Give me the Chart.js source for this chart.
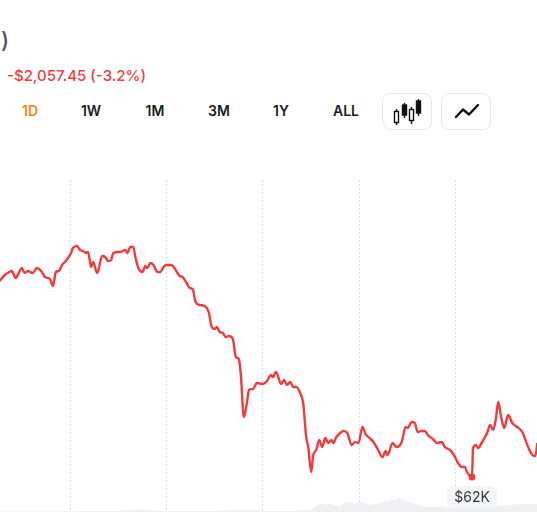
<!DOCTYPE html>
<html>
<head>
<meta charset="utf-8">
<script src="https://cdn.jsdelivr.net/npm/chart.js@4.4.1/dist/chart.umd.min.js"></script>
<style>
  html, body { margin: 0; padding: 0; background: #fff; }
  body { width: 537px; height: 512px; position: relative; overflow: hidden; font-family: "Inter", "Noto Sans", sans-serif; }
  .title { position: absolute; right: calc(100% - 9px); top: 28px; font-size: 22px; font-weight: 500; color: #50555f; white-space: nowrap; }
  .change { position: absolute; left: 7px; top: 66px; font-size: 15px; font-weight: 500; color: #f04040; white-space: nowrap; }
  .tab { position: absolute; top: 102px; font-size: 14px; font-weight: 600; color: #1b1d22; transform: translateX(-50%); }
  .tab.active { color: #f7821b; }
  .iconbtn { position: absolute; top: 93px; width: 48px; height: 35px; border: 1px solid #e6e8ec; border-radius: 8px; box-sizing: content-box; }
  .iconbtn svg { position: absolute; left: 0; top: 0; }
  #chartWrap { position: absolute; left: 0; top: 180px; width: 537px; height: 332px; }
</style>
</head>
<body>
<div class="title">Bitcoin (BTC)</div>
<div class="change">-$2,057.45 (-3.2%)</div>

<div class="tab active" style="left:30px">1D</div>
<div class="tab" style="left:91px">1W</div>
<div class="tab" style="left:155px">1M</div>
<div class="tab" style="left:219px">3M</div>
<div class="tab" style="left:281px">1Y</div>
<div class="tab" style="left:346px">ALL</div>

<div class="iconbtn" style="left:382px">
  <svg width="48" height="35" viewBox="0 0 48 35">
    <g stroke="#111" stroke-width="1.4" fill="none">
      <line x1="13.5" y1="15" x2="13.5" y2="31"/>
      <rect x="11.5" y="17.5" width="4" height="11" fill="#fff"/>
      <line x1="21.5" y1="9" x2="21.5" y2="24"/>
      <rect x="19.5" y="11" width="4" height="10" fill="#111"/>
      <line x1="28.5" y1="13" x2="28.5" y2="30"/>
      <rect x="26.5" y="15.5" width="4" height="11" fill="#fff"/>
      <line x1="35.5" y1="5" x2="35.5" y2="22"/>
      <rect x="33.5" y="7" width="4" height="12" fill="#111"/>
    </g>
  </svg>
</div>
<div class="iconbtn" style="left:441px">
  <svg width="48" height="35" viewBox="0 0 48 35">
    <polyline points="14,23 21,15.5 27,20.5 36,11" stroke="#111" stroke-width="2.4" fill="none" stroke-linejoin="round" stroke-linecap="round"/>
  </svg>
</div>

<div id="chartWrap"><canvas id="priceChart"></canvas></div>

<script>
// time axis: 2.5-minute steps since 00:00 (96 steps = 4 hours)
const priceSteps = [
  26, 31, 34, 38, 42, 44, 48, 51, 54, 59, 63, 68, 71, 76, 79, 82, 85, 88, 91, 94,
  97, 99, 103, 106, 109, 112, 114, 117, 119, 123, 128, 131, 134, 137, 139, 146, 151, 153, 156, 159,
  161, 164, 168, 171, 173, 176, 179, 183, 186, 189, 192, 197, 200, 205, 208, 212, 215, 218, 221, 225,
  230, 234, 237, 240, 242, 245, 248, 251, 254, 258, 261, 264, 266, 269, 272, 274, 278, 282, 288, 292,
  296, 298, 301, 306, 309, 312, 315, 318, 321, 325, 328, 331, 333, 336, 338, 341, 344, 347, 350, 353,
  356, 358, 361, 365, 368, 372, 376, 380, 383, 387, 390, 394, 398, 402, 407, 410, 412, 417, 421, 426,
  430, 432, 436, 439, 442, 446, 449, 452, 457, 461, 466, 469, 474, 478, 482, 486, 489, 491, 496, 497,
  500, 502, 506, 509, 511, 514, 517, 520, 522, 525, 528, 532, 536, 541, 546, 551, 556, 559, 561
];
const priceValues = [
  64920, 65010, 65040, 65070, 64965, 65010, 65115, 65040, 65070, 65040, 65115, 65055, 64980, 64950, 64845, 65055, 65070, 65160, 65205, 65265,
  65340, 65415, 65445, 65385, 65370, 65340, 65355, 65130, 65205, 65040, 65295, 65280, 65220, 65235, 65340, 65355, 65385, 65340, 65430, 65430,
  65280, 65115, 65055, 65145, 65115, 65190, 65160, 65055, 65055, 65130, 65160, 65160, 65115, 64995, 64980, 64890, 64815, 64800, 64605, 64560,
  64545, 64455, 64230, 64200, 64230, 64155, 64140, 64080, 64095, 64050, 63780, 63750, 63510, 62880, 63090, 63285, 63300, 63390, 63375, 63420,
  63510, 63480, 63555, 63375, 63435, 63360, 63405, 63330, 63330, 63240, 63090, 62580, 62430, 62055, 62310, 62385, 62535, 62430, 62565, 62490,
  62535, 62490, 62580, 62640, 62670, 62640, 62460, 62505, 62490, 62730, 62625, 62565, 62505, 62400, 62280, 62370, 62310, 62490, 62430, 62505,
  62730, 62715, 62805, 62790, 62655, 62670, 62670, 62610, 62550, 62490, 62505, 62430, 62385, 62310, 62190, 62130, 62130, 62055, 61980, 62415,
  62460, 62415, 62505, 62580, 62640, 62760, 62685, 62880, 63105, 62880, 62715, 62910, 62790, 62730, 62655, 62460, 62310, 62295, 62490
];

const volumeSteps = [
  26, 76, 126, 151, 161, 176, 186, 215, 255, 285, 315, 335, 343, 347, 350, 355, 360, 365, 369, 374,
  379, 384, 389, 394, 399, 404, 409, 414, 419, 424, 429, 434, 439, 444, 449, 454, 464, 474, 484, 494,
  504, 514, 524, 534, 544, 554, 561
];
const volumeValues = [
  15, 15, 30, 45, 75, 60, 30, 30, 45, 45, 30, 60, 210, 270, 210, 240, 180, 180, 270, 300,
  240, 300, 270, 210, 240, 270, 300, 330, 360, 420, 330, 300, 240, 210, 180, 150, 180, 120, 150, 180,
  180, 150, 180, 210, 240, 240, 240
];

const gridSteps = [96, 192, 288, 384, 480];

const toPoints = (xs, ys) => xs.map((x, i) => ({ x: x, y: ys[i] }));

const lowValue = Math.min(...priceValues);
const lowIndex = priceValues.indexOf(lowValue);

// draws the "$62K" chip under the day's low
const lowLabelPlugin = {
  id: 'lowLabel',
  afterDatasetsDraw(chart) {
    const meta = chart.getDatasetMeta(1);
    const pt = meta.data[lowIndex];
    if (!pt) return;
    const ctx = chart.ctx;
    const text = '$' + Math.round(lowValue / 1000) + 'K';
    const w = 50, h = 22;
    const left = pt.x - w / 2, top = pt.y + 9;
    ctx.save();
    ctx.fillStyle = '#f4f5f7';
    ctx.beginPath();
    ctx.roundRect(left, top, w, h, 6);
    ctx.fill();
    ctx.fillStyle = '#33373f';
    ctx.font = '400 14px Inter, "Noto Sans", sans-serif';
    ctx.textAlign = 'center';
    ctx.textBaseline = 'middle';
    ctx.fillText(text, pt.x, top + h / 2 + 0.5);
    ctx.restore();
  }
};

new Chart(document.getElementById('priceChart').getContext('2d'), {
  type: 'line',
  data: {
    datasets: [
      {
        label: 'Volume',
        data: toPoints(volumeSteps, volumeValues),
        yAxisID: 'vol',
        borderWidth: 0,
        pointRadius: 0,
        fill: 'start',
        backgroundColor: '#eef0f4',
        tension: 0
      },
      {
        label: 'Price',
        data: toPoints(priceSteps, priceValues),
        yAxisID: 'y',
        borderColor: '#f23b3b',
        borderWidth: 2.4,
        cubicInterpolationMode: 'monotone',
        pointRadius: ctx => ctx.dataIndex === lowIndex ? 3.5 : 0,
        pointBackgroundColor: '#f23b3b',
        pointBorderWidth: 0,
        fill: false
      }
    ]
  },
  options: {
    responsive: true,
    maintainAspectRatio: false,
    animation: false,
    layout: { padding: 0 },
    plugins: { legend: { display: false }, tooltip: { enabled: false } },
    scales: {
      x: {
        type: 'linear',
        min: 26.35,
        max: 560.65,
        afterBuildTicks: scale => { scale.ticks = gridSteps.map(v => ({ value: v })); },
        ticks: { display: false },
        grid: { color: '#d9dee7', lineWidth: 1, drawTicks: false },
        border: { display: false, dash: [2, 2] }
      },
      y: {
        display: false,
        min: 61455,
        max: 66435
      },
      vol: {
        display: false,
        min: 0,
        max: 9960
      }
    }
  },
  plugins: [lowLabelPlugin]
});
</script>
</body>
</html>
